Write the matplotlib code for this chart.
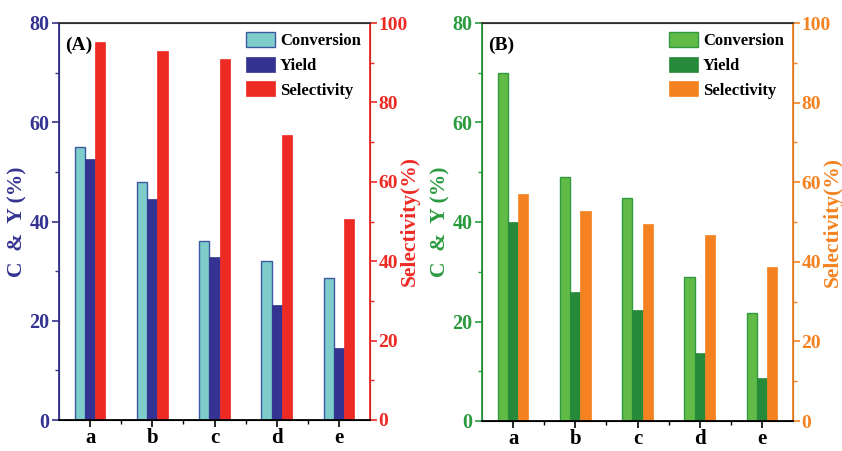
import numpy as np
import matplotlib.pyplot as plt
from matplotlib.ticker import MultipleLocator

plt.rcParams['font.family'] = ['Liberation Serif', 'DejaVu Serif']
plt.rcParams['font.weight'] = 'bold'
plt.rcParams['axes.labelweight'] = 'bold'

categories = ['a', 'b', 'c', 'd', 'e']

# panel A
conv_a = [55.0, 48.0, 36.0, 32.0, 28.6]
yield_a = [52.5, 44.6, 32.8, 23.2, 14.6]
sel_a = [95.2, 93.0, 90.9, 71.9, 50.6]

# panel B
conv_b = [70.0, 49.1, 44.9, 28.9, 21.8]
yield_b = [40.0, 26.0, 22.3, 13.6, 8.6]
sel_b = [57.1, 52.8, 49.4, 46.7, 38.7]


def panel(ax, conv, yld, sel, tag, c_conv, e_conv, c_yld, c_sel, c_left, c_right):
    x = np.arange(len(categories))
    w = 0.165
    ax2 = ax.twinx()
    b1 = ax.bar(x - w, conv, w, color=c_conv, edgecolor=e_conv, linewidth=1, label='Conversion')
    b2 = ax.bar(x, yld, w, color=c_yld, edgecolor=c_yld, linewidth=0.5, label='Yield')
    b3 = ax2.bar(x + w, sel, w, color=c_sel, edgecolor=c_sel, linewidth=0.5, label='Selectivity')
    ax.set_xlim(-0.5, 4.5)
    ax.set_ylim(0, 80)
    ax2.set_ylim(0, 100)
    ax.set_xticks(x)
    ax.set_xticklabels(categories, fontsize=15)
    ax.set_xticks(x[:-1] + 0.5, minor=True)
    ax.yaxis.set_major_locator(MultipleLocator(20))
    ax.yaxis.set_minor_locator(MultipleLocator(10))
    ax2.yaxis.set_major_locator(MultipleLocator(20))
    ax2.yaxis.set_minor_locator(MultipleLocator(10))
    ax.tick_params(axis='y', colors=c_left, labelsize=14.5, direction='out', length=5, width=1.2, pad=2)
    ax.tick_params(axis='y', which='minor', colors=c_left, length=3, width=1)
    ax.tick_params(axis='x', which='major', length=5, width=1.2, pad=1)
    ax.tick_params(axis='x', which='minor', length=3, width=1)
    ax2.tick_params(axis='y', colors=c_right, labelsize=14, direction='out', length=5, width=1.2, pad=1)
    ax2.tick_params(axis='y', which='minor', colors=c_right, length=3, width=1)
    ax2.spines['left'].set_color(c_left)
    ax2.spines['right'].set_color(c_right)
    ax2.spines['top'].set_color('#333333')
    for s in ax2.spines.values():
        s.set_linewidth(1.3)
    ax.set_ylabel('C  &  Y (%)', color=c_left, fontsize=15.5, va='center')
    ax.yaxis.set_label_coords(-0.135, 0.5)
    ax2.set_ylabel('Selectivity(%)', color=c_right, fontsize=15.5, va='center')
    ax2.yaxis.set_label_coords(1.127, 0.5)
    ax.text(0.02, 0.965, tag, transform=ax.transAxes, fontsize=14, va='top', ha='left')
    leg = ax2.legend([b1, b2, b3], ['Conversion', 'Yield', 'Selectivity'], loc='upper right',
                     frameon=False, fontsize=12, handlelength=1.75, handleheight=1.0,
                     borderaxespad=0.15, labelspacing=0.45, handletextpad=0.3)
    leg.set_zorder(5)


fig = plt.figure(figsize=(8.42, 4.51), dpi=100)
ax_a = fig.add_axes([59 / 842, 31 / 451, 311 / 842, 397 / 451])
ax_b = fig.add_axes([482 / 842, 30 / 451, 311 / 842, 398 / 451])

panel(ax_a, conv_a, yield_a, sel_a, '(A)', '#7ECDCA', '#3B5AA3', '#343391', '#EE2A24',
      '#343391', '#EE2A24')
panel(ax_b, conv_b, yield_b, sel_b, '(B)', '#62BB46', '#2F9A3E', '#268A3A', '#F58220',
      '#2A9A3F', '#F58220')

fig.savefig('out.png', dpi=100)
